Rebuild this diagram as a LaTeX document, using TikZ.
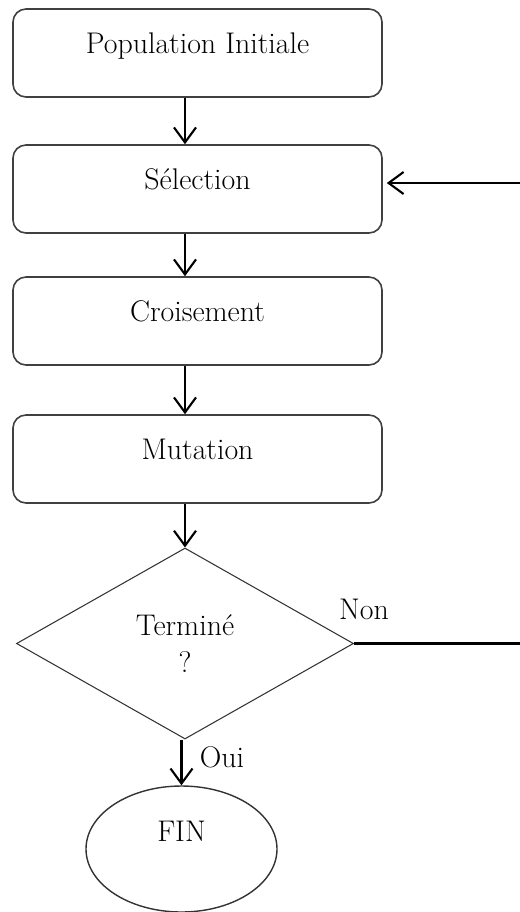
\documentclass[tikz,border=0pt]{standalone}
\usetikzlibrary{shapes.geometric,arrows.meta}
\begin{document}
\begin{tikzpicture}[
	boite/.style={draw=black!75, line width=0.9pt, rounded corners=0.26cm, minimum width=7.38cm, minimum height=1.76cm, text height=0.45cm, text depth=0.45cm, inner sep=0pt, font=\fontsize{17}{20}\selectfont},
	losange/.style={diamond, draw=black!80, line width=0.6pt, aspect=1.76, minimum width=6.74cm, minimum height=3.82cm, inner sep=0pt, align=center, font=\fontsize{17}{21.5}\selectfont},
	bulle/.style={ellipse, draw=black!80, line width=0.8pt, minimum width=3.82cm, minimum height=2.52cm, text height=0.45cm, text depth=0.75cm, inner sep=0pt, font=\fontsize{17}{20}\selectfont},
	etiquette/.style={inner sep=0pt, font=\fontsize{17}{20}\selectfont},
	fleche/.style={line width=1.2pt, -{Straight Barb[length=0.3cm, width=0.44cm]}},
	trait/.style={line width=1.2pt}
	]
	\useasboundingbox (0,0) rectangle (10.4,-18.24);
	\node[boite](pop) at (3.95,-1.06){Population Initiale};
	\node[boite](sel) at (3.95,-3.78){Sélection};
	\node[boite](crois) at (3.95,-6.42){Croisement};
	\node[boite](mut) at (3.95,-9.18){Mutation};
	\node[losange](fini) at (3.70,-12.87){Terminé\\?};
	\node[bulle](fin) at (3.63,-16.98){FIN};
	\node[etiquette](non) at (7.28,-12.18){Non};
	\node[etiquette](oui) at (4.44,-15.14){Oui};
	\coordinate(retour) at (10.4,-3.66);
	\coordinate(sortie) at (10.4,-12.87);
	\draw[fleche](pop.south -| fini.north) to (sel.north -| fini.north);
	\draw[fleche](sel.south -| fini.north) to (crois.north -| fini.north);
	\draw[fleche](crois.south -| fini.north) to (mut.north -| fini.north);
	\draw[fleche](mut.south -| fini.north) to (fini.north);
	\draw[fleche](fini.south -| fin.north) to (fin.north);
	\draw[fleche, shorten >=0.08cm](retour) to (sel.east |- retour);
	\draw[trait](fini.east) to (sortie);
\end{tikzpicture}
\end{document}
